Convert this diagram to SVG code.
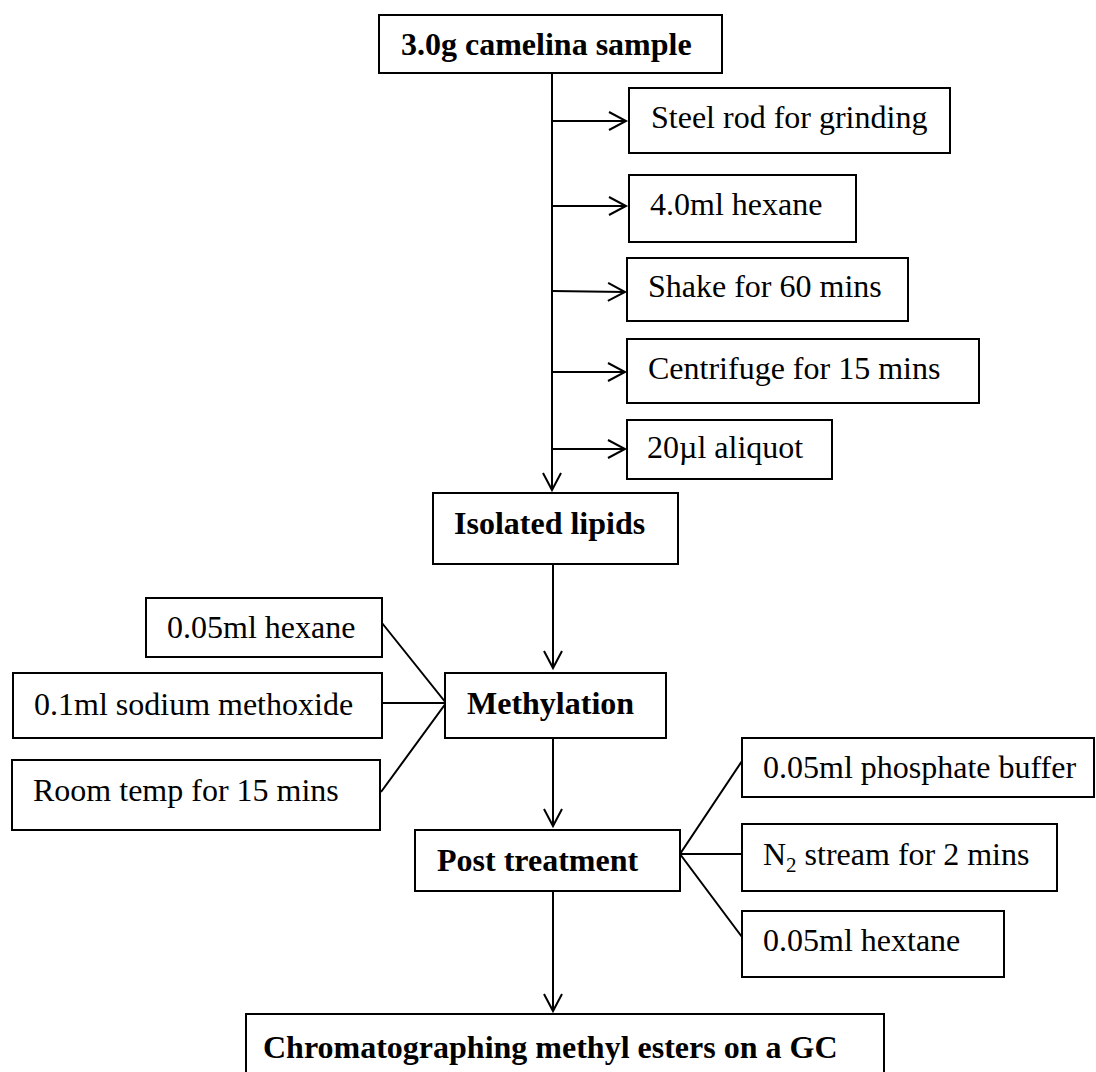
<svg xmlns="http://www.w3.org/2000/svg" width="1096" height="1072" viewBox="0 0 1096 1072">
<style>
.box{fill:#fff;stroke:#000;stroke-width:2}
.t{font-family:"Liberation Serif","Times New Roman",serif;font-size:32px;fill:#000}
.b{font-weight:bold}
.c{fill:none;stroke:#000;stroke-width:2}
</style>
<defs>
<marker id="ah" markerUnits="userSpaceOnUse" markerWidth="40" markerHeight="40" viewBox="-20 -20 40 40" refX="0" refY="0" orient="auto" overflow="visible">
<path d="M-17,-9 L0,0 L-17,9" fill="none" stroke="#000" stroke-width="2"/>
</marker>
</defs>
<rect width="1096" height="1072" fill="#fff"/>
<g id="connectors">
<line class="c" x1="552" y1="73" x2="552" y2="490" marker-end="url(#ah)"/>
<line class="c" x1="552" y1="121" x2="626" y2="121" marker-end="url(#ah)"/>
<line class="c" x1="552" y1="206" x2="626" y2="206" marker-end="url(#ah)"/>
<line class="c" x1="552" y1="291" x2="625" y2="292" marker-end="url(#ah)"/>
<line class="c" x1="552" y1="372" x2="625" y2="372" marker-end="url(#ah)"/>
<line class="c" x1="552" y1="449" x2="625" y2="449" marker-end="url(#ah)"/>
<line class="c" x1="553" y1="564" x2="553" y2="668" marker-end="url(#ah)"/>
<line class="c" x1="553" y1="738" x2="553" y2="826" marker-end="url(#ah)"/>
<line class="c" x1="553" y1="891" x2="553" y2="1011" marker-end="url(#ah)"/>
<polyline class="c" points="382,623 446,703 381,792"/>
<line class="c" x1="380" y1="703" x2="446" y2="703"/>
<polyline class="c" points="742,761 680,854 742,937"/>
<line class="c" x1="680" y1="854" x2="742" y2="854"/>
</g>
<g id="n1"><rect class="box" x="379" y="15" width="343" height="58"/><text class="t b" x="401" y="55">3.0g camelina sample</text></g>
<g id="n2"><rect class="box" x="629" y="88" width="321" height="65"/><text class="t" x="651" y="128">Steel rod for grinding</text></g>
<g id="n3"><rect class="box" x="629" y="175" width="227" height="67"/><text class="t" x="650" y="215">4.0ml hexane</text></g>
<g id="n4"><rect class="box" x="627" y="258" width="281" height="63"/><text class="t" x="648" y="297">Shake for 60 mins</text></g>
<g id="n5"><rect class="box" x="627" y="339" width="352" height="64"/><text class="t" x="648" y="379">Centrifuge for 15 mins</text></g>
<g id="n6"><rect class="box" x="627" y="420" width="205" height="59"/><text class="t" x="647" y="458">20µl aliquot</text></g>
<g id="n7"><rect class="box" x="433" y="493" width="245" height="71"/><text class="t b" x="454" y="534">Isolated lipids</text></g>
<g id="n8"><rect class="box" x="146" y="598" width="236" height="59"/><text class="t" x="167" y="638">0.05ml hexane</text></g>
<g id="n9"><rect class="box" x="13" y="673" width="369" height="65"/><text class="t" x="34" y="715">0.1ml sodium methoxide</text></g>
<g id="n10"><rect class="box" x="12" y="760" width="368" height="70"/><text class="t" x="33" y="801">Room temp for 15 mins</text></g>
<g id="n11"><rect class="box" x="445" y="673" width="221" height="65"/><text class="t b" x="467" y="714">Methylation</text></g>
<g id="n12"><rect class="box" x="415" y="830" width="265" height="61"/><text class="t b" x="437" y="871">Post treatment</text></g>
<g id="n13"><rect class="box" x="742" y="738" width="352" height="59"/><text class="t" x="763" y="778">0.05ml phosphate buffer</text></g>
<g id="n14"><rect class="box" x="742" y="824" width="315" height="67"/><text class="t" x="763" y="865">N<tspan font-size="21" dy="7">2</tspan><tspan dy="-7"> stream for 2 mins</tspan></text></g>
<g id="n15"><rect class="box" x="742" y="911" width="262" height="66"/><text class="t" x="763" y="951">0.05ml hextane</text></g>
<g id="n16"><rect class="box" x="246" y="1014" width="638" height="80"/><text class="t b" x="263" y="1058">Chromatographing methyl esters on a GC</text></g>
</svg>
